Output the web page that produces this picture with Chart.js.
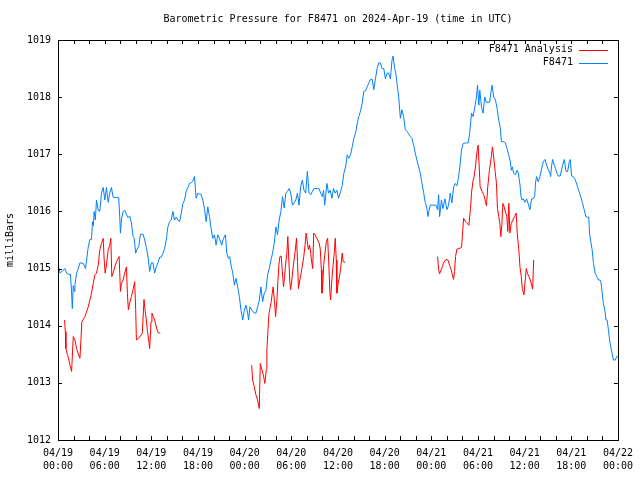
<!DOCTYPE html>
<html>
<head>
<meta charset="utf-8">
<script src="https://cdn.jsdelivr.net/npm/chart.js@4/dist/chart.umd.min.js"></script>
<style>
  body { margin: 0; background: #fff; }
  canvas { display: block; }
</style>
</head>
<body>
<canvas id="chart" width="640" height="480"></canvas>
<script>
// Заголовок и подписи
const chartTitle = "Barometric Pressure for F8471 on 2024-Apr-19 (time in UTC)";
const yAxisTitle = "milliBars";
const seriesNames = ["F8471 Analysis", "F8471"];

// Ось X: часы от 04/19 00:00 UTC
const xTickHours = [0, 6, 12, 18, 24, 30, 36, 42, 48, 54, 60, 66, 72];
const xTickLabels = [
  ["04/19", "00:00"], ["04/19", "06:00"], ["04/19", "12:00"], ["04/19", "18:00"],
  ["04/20", "00:00"], ["04/20", "06:00"], ["04/20", "12:00"], ["04/20", "18:00"],
  ["04/21", "00:00"], ["04/21", "06:00"], ["04/21", "12:00"], ["04/21", "18:00"],
  ["04/22", "00:00"],
];
const yTicks = [1012, 1013, 1014, 1015, 1016, 1017, 1018, 1019];

// F8471 (синяя линия)
const stationHours = [
  0, 0.13, 0.26, 0.5, 0.9, 1.1, 1.32, 1.6, 1.75, 1.84, 1.96, 2.1, 2.18, 2.39, 2.6, 2.82,
  3.25, 3.54, 3.89, 4.1, 4.3, 4.44, 4.55, 4.65, 4.8, 4.95, 5.17, 5.38, 5.59, 5.81, 6.02,
  6.23, 6.45, 6.66, 6.87, 7.09, 7.5, 7.81, 7.94, 8.03, 8.15, 8.37, 8.58, 8.8, 9.0, 9.22,
  9.44, 9.65, 9.8, 9.99, 10.15, 10.4, 10.59, 10.93, 11.15, 11.36, 11.58, 11.79, 12.0,
  12.21, 12.43, 12.64, 12.85, 13.07, 13.28, 13.5, 13.71, 13.92, 14.13, 14.35, 14.55,
  14.77, 14.98, 15.2, 15.42, 15.63, 15.85, 16.06, 16.27, 16.48, 16.7, 16.91, 17.12,
  17.34, 17.55, 17.76, 17.98, 18.2, 18.4, 18.62, 18.83, 19.05, 19.26, 19.48, 19.69,
  19.9, 20.12, 20.33, 20.55, 20.76, 21.06, 21.27, 21.53, 21.7, 21.91, 22.08, 22.25,
  22.47, 22.68, 22.89, 23.1, 23.32, 23.53, 23.75, 23.96, 24.17, 24.39, 24.51, 24.68,
  24.94, 25.24, 25.45, 25.67, 25.88, 26.1, 26.31, 26.52, 26.74, 26.95, 27.16, 27.38,
  27.59, 27.8, 28.02, 28.23, 28.44, 28.66, 28.87, 29.08, 29.3, 29.5, 29.72, 29.93,
  30.15, 30.37, 30.58, 30.79, 30.99, 31.2, 31.42, 31.63, 31.85, 32.06, 32.28, 32.49,
  32.7, 32.92, 33.35, 33.56, 33.78, 33.99, 34.15, 34.29, 34.58, 34.79, 35.0, 35.22,
  35.43, 35.64, 35.86, 36.07, 36.34, 36.55, 36.76, 36.98, 37.19, 37.4, 37.61, 37.83,
  38.04, 38.26, 38.47, 38.68, 38.9, 39.11, 39.32, 39.54, 39.75, 39.97, 40.18, 40.4,
  40.61, 40.82, 41.03, 41.25, 41.46, 41.67, 41.89, 42.1, 42.31, 42.52, 42.74, 42.95,
  43.08, 43.29, 43.46, 43.59, 43.8, 44.02, 44.23, 44.44, 44.66, 44.87, 45.08, 45.3,
  45.51, 45.73, 45.94, 46.15, 46.37, 46.58, 46.79, 47.01, 47.22, 47.43, 47.56, 47.86,
  48.2, 48.59, 48.81, 48.94, 49.07, 49.3, 49.5, 49.75, 50.01, 50.2, 50.44, 50.65,
  50.87, 51.08, 51.29, 51.5, 51.67, 51.89, 52.1, 52.53, 52.75, 52.96, 53.17, 53.38,
  53.6, 53.81, 53.94, 54.11, 54.24, 54.45, 54.66, 54.87, 55.08, 55.51, 55.64, 55.82,
  56.03, 56.25, 56.46, 56.67, 56.89, 57.01, 57.31, 57.52, 57.74, 57.95, 58.16, 58.29,
  58.42, 58.59, 58.8, 59.02, 59.19, 59.4, 59.53, 59.66, 59.83, 60.04, 60.25, 60.47,
  60.68, 60.9, 61.1, 61.3, 61.4, 61.53, 61.75, 61.97, 62.19, 62.4, 62.62, 62.83, 63.04,
  63.25, 63.34, 63.47, 63.6, 63.81, 63.98, 64.15, 64.32, 64.58, 64.75, 64.89, 65.1,
  65.32, 65.53, 65.74, 65.87, 66.04, 66.25, 66.46, 66.63, 66.8, 67.02, 67.23, 67.45,
  67.66, 67.87, 68.09, 68.25, 68.34, 68.51, 68.68, 68.85, 69.06, 69.28, 69.49, 69.7,
  69.83, 70.0, 70.13, 70.34, 70.47, 70.6, 70.73, 70.9, 71.07, 71.24, 71.41, 71.67,
  71.84, 72.0,
];
const stationPressure = [
  1015.09, 1015.0, 1014.92, 1014.95, 1015.0, 1014.92, 1014.9, 1014.9, 1014.57, 1014.3,
  1014.7, 1014.6, 1014.72, 1014.92, 1015.0, 1015.1, 1015.09, 1015.0, 1015.38, 1015.51,
  1015.51, 1015.82, 1015.75, 1016.0, 1015.85, 1016.2, 1016.02, 1016.0, 1016.32, 1016.42,
  1016.2, 1016.42, 1016.16, 1016.32, 1016.42, 1016.25, 1016.24, 1016.24, 1015.9, 1015.62,
  1015.85, 1016.0, 1016.02, 1015.95, 1015.89, 1015.92, 1015.8, 1015.56, 1015.53, 1015.27,
  1015.33, 1015.4, 1015.6, 1015.6, 1015.5, 1015.37, 1015.2, 1014.95, 1015.1, 1015.1,
  1014.92, 1015.03, 1015.1, 1015.2, 1015.2, 1015.27, 1015.35, 1015.5, 1015.73, 1015.82,
  1015.85, 1016.0, 1015.85, 1015.9, 1015.85, 1015.82, 1015.97, 1016.14, 1016.2, 1016.35,
  1016.42, 1016.49, 1016.5, 1016.53, 1016.61, 1016.23, 1016.32, 1016.3, 1016.3, 1016.2,
  1016.05, 1015.82, 1016.08, 1015.91, 1015.7, 1015.53, 1015.59, 1015.41, 1015.59, 1015.53,
  1015.41, 1015.53, 1015.59, 1015.27, 1015.18, 1015.21, 1015.06, 1014.92, 1014.71, 1014.83,
  1014.68, 1014.51, 1014.27, 1014.1, 1014.27, 1014.36, 1014.22, 1014.1, 1014.33, 1014.27,
  1014.22, 1014.22, 1014.33, 1014.45, 1014.68, 1014.42, 1014.57, 1014.62, 1014.89, 1015.0,
  1015.15, 1015.27, 1015.44, 1015.73, 1015.59, 1015.85, 1016.0, 1016.26, 1016.06, 1016.32,
  1016.35, 1016.4, 1016.32, 1016.11, 1016.15, 1016.2, 1016.32, 1016.11, 1016.43, 1016.55,
  1016.37, 1016.32, 1016.7, 1016.32, 1016.29, 1016.35, 1016.4, 1016.4, 1016.4, 1016.32,
  1016.26, 1016.37, 1016.11, 1016.49, 1016.32, 1016.37, 1016.23, 1016.4, 1016.32, 1016.37,
  1016.23, 1016.35, 1016.46, 1016.67, 1016.78, 1016.99, 1016.93, 1016.99, 1017.13, 1017.28,
  1017.37, 1017.54, 1017.66, 1017.76, 1017.89, 1018.1, 1018.11, 1018.18, 1018.25, 1018.31,
  1018.31, 1018.13, 1018.32, 1018.5, 1018.6, 1018.6, 1018.5, 1018.5, 1018.32, 1018.42,
  1018.42, 1018.32, 1018.65, 1018.72, 1018.5, 1018.39, 1018.24, 1018.01, 1017.63, 1017.78,
  1017.66, 1017.43, 1017.4, 1017.36, 1017.31, 1017.28, 1017.16, 1017.02, 1016.9, 1016.78,
  1016.67, 1016.5, 1016.33, 1016.16, 1016.06, 1015.91, 1016.11, 1016.11, 1016.11, 1016.03,
  1016.29, 1015.91, 1016.2, 1016.05, 1016.22, 1016.03, 1016.1, 1016.32, 1016.15, 1016.43,
  1016.49, 1016.45, 1016.6, 1016.78, 1017.08, 1017.19, 1017.2, 1017.2, 1017.4, 1017.72,
  1017.66, 1017.83, 1018.0, 1018.21, 1017.86, 1018.12, 1017.83, 1017.72, 1018.0, 1017.91,
  1017.91, 1018.07, 1018.21, 1018.0, 1017.95, 1017.8, 1017.6, 1017.45, 1017.22, 1017.22,
  1017.2, 1017.1, 1016.99, 1016.87, 1016.72, 1016.78, 1016.67, 1016.64, 1016.72, 1016.67,
  1016.47, 1016.26, 1016.2, 1016.22, 1016.16, 1016.22, 1016.13, 1016.03, 1016.22, 1016.22,
  1016.27, 1016.5, 1016.61, 1016.52, 1016.61, 1016.75, 1016.87, 1016.91, 1016.81, 1016.73,
  1016.67, 1016.61, 1016.8, 1016.91, 1016.81, 1016.75, 1016.67, 1016.62, 1016.62, 1016.73,
  1016.81, 1016.91, 1016.7, 1016.7, 1016.87, 1016.91, 1016.62, 1016.61, 1016.57, 1016.51,
  1016.43, 1016.34, 1016.25, 1016.14, 1016.03, 1015.91, 1015.9, 1015.9, 1015.62, 1015.47,
  1015.33, 1015.09, 1014.92, 1014.86, 1014.8, 1014.8, 1014.75, 1014.54, 1014.39, 1014.25,
  1014.1, 1014.1, 1013.98, 1013.78, 1013.63, 1013.52, 1013.4, 1013.4, 1013.46, 1013.46,
];

// F8471 Analysis (красная линия), null = разрыв
const analysisHours = [
  0.85, 0.94, 1.02, 1.2, 1.32, 1.54, 1.75, 1.96, 2.18, 2.39, 2.6, 2.82, 2.95, 3.07, 3.46,
  3.89, 4.31, 4.53, 4.74, 4.95, 5.17, 5.38, 5.59, 5.81, 5.94, 6.06, 6.23, 6.45, 6.66,
  6.79, 6.92, 7.09, 7.3, 7.52, 7.73, 7.86, 8.03, 8.15, 8.37, 8.58, 8.8, 8.92, 9.05, 9.22,
  9.44, 9.65, 9.86, 9.99, 10.08, 10.5, 10.84, 11.06, 11.19, 11.36, 11.49, 11.66, 11.79,
  11.96, 12.08, 12.25, 12.43, 12.64, 12.85, 13.15,
  18,
  24.9, 25.03, 25.24, 25.45, 25.66, 25.88, 26.01, 26.22, 26.4, 26.6, 26.78, 26.86, 26.99,
  27.12, 27.29, 27.42, 27.55, 27.67, 27.85, 27.98, 28.15, 28.27, 28.4, 28.53, 28.7,
  28.83, 29.0, 29.13, 29.26, 29.43, 29.55, 29.68, 29.81, 29.9, 30.07, 30.24, 30.41,
  30.54, 30.67, 30.8, 30.92, 31.09, 31.26, 31.43, 31.6, 31.77, 31.9, 32.03, 32.2, 32.33,
  32.46, 32.58, 32.75, 32.88, 33.05, 33.2, 33.39, 33.6, 33.73, 33.86, 33.94, 34.07,
  34.16, 34.33, 34.5, 34.67, 34.8, 34.97, 35.05, 35.18, 35.35, 35.52, 35.65, 35.78,
  35.86, 36.03, 36.2, 36.37, 36.54, 36.67, 36.93,
  42,
  48.81, 48.94, 49.07, 49.28, 49.58, 49.88, 50.14, 50.35, 50.56, 50.69, 50.86, 50.99,
  51.12, 51.29, 51.55, 51.89, 52.02, 52.15, 52.4, 52.6, 52.83, 53.04, 53.17, 53.34,
  53.51, 53.68, 53.85, 54.02, 54.15, 54.28, 54.54, 54.75, 54.97, 55.09, 55.26, 55.48,
  55.69, 55.86, 55.99, 56.21, 56.38, 56.51, 56.68, 56.81, 56.94, 57.07, 57.2, 57.37,
  57.54, 57.71, 57.84, 57.97, 58.1, 58.28, 58.49, 58.71, 58.92, 59.05, 59.27, 59.4,
  59.57, 59.7, 59.91, 60.04, 60.21, 60.38, 60.56, 60.73, 60.9, 61.03, 61.16,
];
const analysisPressure = [
  1014.1, 1013.9, 1013.6, 1013.5, 1013.45, 1013.31, 1013.2, 1013.81, 1013.75, 1013.6,
  1013.51, 1013.43, 1013.76, 1014.07, 1014.16, 1014.33, 1014.57, 1014.74, 1014.89,
  1014.92, 1015.06, 1015.33, 1015.44, 1015.53, 1015.15, 1014.92, 1015.06, 1015.33,
  1015.41, 1015.53, 1014.86, 1014.92, 1015.03, 1015.12, 1015.18, 1015.21, 1014.6,
  1014.74, 1014.8, 1014.92, 1015.03, 1014.57, 1014.28, 1014.4, 1014.51, 1014.63, 1014.77,
  1014.28, 1013.75, 1013.8, 1013.87, 1014.46, 1014.28, 1014.1, 1013.92, 1013.75, 1013.6,
  1014.07, 1014.22, 1014.16, 1014.1, 1013.98, 1013.88, 1013.87,
  null,
  1013.31, 1013.05, 1012.93, 1012.79, 1012.7, 1012.55, 1013.34, 1013.23, 1013.14,
  1012.99, 1013.23, 1013.58, 1013.9, 1014.2, 1014.33, 1014.42, 1014.57, 1014.68, 1014.4,
  1014.16, 1014.45, 1014.77, 1015.06, 1015.21, 1015.22, 1014.97, 1014.68, 1014.86,
  1015.06, 1015.27, 1015.56, 1015.15, 1014.77, 1014.63, 1014.8, 1015.03, 1015.21,
  1015.36, 1015.53, 1015.12, 1014.65, 1014.8, 1014.92, 1015.06, 1015.21, 1015.41,
  1015.62, 1015.5, 1015.33, 1015.41, 1015.33, 1015.15, 1015.0, 1015.62, 1015.59,
  1015.55, 1015.5, 1015.44, 1015.33, 1014.98, 1014.57, 1014.77, 1015.06, 1015.27,
  1015.47, 1015.53, 1015.15, 1014.57, 1014.45, 1014.74, 1015.03, 1015.27, 1015.53,
  1015.15, 1014.57, 1014.74, 1014.86, 1015.03, 1015.27, 1015.12, 1015.11,
  null,
  1015.21, 1014.98, 1014.91, 1014.98, 1015.1, 1015.16, 1015.15, 1015.06, 1014.98,
  1014.9, 1014.81, 1014.95, 1015.21, 1015.34, 1015.35, 1015.37, 1015.62, 1015.88,
  1015.82, 1015.79, 1015.76, 1016.05, 1016.32, 1016.52, 1016.61, 1016.78, 1017.02,
  1017.16, 1016.81, 1016.43, 1016.35, 1016.29, 1016.17, 1016.1, 1016.43, 1016.73,
  1016.93, 1017.13, 1016.99, 1016.7, 1016.49, 1016.05, 1015.91, 1015.79, 1015.56,
  1015.76, 1016.14, 1016.08, 1015.99, 1015.91, 1015.65, 1016.14, 1015.62, 1015.79,
  1015.85, 1015.91, 1015.97, 1015.62, 1015.3, 1015.03, 1014.86, 1014.65, 1014.54,
  1014.74, 1015.0, 1014.91, 1014.86, 1014.8, 1014.71, 1014.64, 1015.15,
];

const RED = "rgb(255, 0, 0)";
const BLUE = "rgb(0, 128, 255)";
const FONT = "DejaVu Sans Mono";
const minorStepHours = 2;

// Пары {x, y} для Chart.js
const toPoints = (hours, values) => hours.map((h, i) => ({ x: h, y: values[i] }));

// Рамка, засечки внутрь, заголовок и легенда в стиле gnuplot
const gnuplotFrame = {
  id: "gnuplotFrame",
  afterDraw(chart) {
    const { ctx, chartArea: a, scales } = chart;
    ctx.save();
    ctx.strokeStyle = "#000";
    ctx.lineWidth = 1;

    ctx.beginPath();
    for (let h = xTickHours[0]; h <= xTickHours[xTickHours.length - 1]; h += minorStepHours) {
      const x = Math.round(scales.x.getPixelForValue(h)) + 0.5;
      ctx.moveTo(x, a.bottom);
      ctx.lineTo(x, a.bottom - 4);
      ctx.moveTo(x, a.top);
      ctx.lineTo(x, a.top + 4);
    }
    yTicks.forEach((v) => {
      const y = Math.round(scales.y.getPixelForValue(v)) + 0.5;
      ctx.moveTo(a.left, y);
      ctx.lineTo(a.left + 4, y);
      ctx.moveTo(a.right, y);
      ctx.lineTo(a.right - 4, y);
    });
    ctx.stroke();
    ctx.strokeRect(Math.round(a.left) + 0.5, Math.round(a.top) + 0.5,
      Math.round(a.right - a.left), Math.round(a.bottom - a.top));

    // заголовок над областью графика
    ctx.fillStyle = "#000";
    ctx.font = `10px "${FONT}"`;
    ctx.textAlign = "center";
    ctx.textBaseline = "middle";
    ctx.fillText(chartTitle, (a.left + a.right) / 2, 19.5);

    // легенда справа сверху
    const colors = [RED, BLUE];
    seriesNames.forEach((name, i) => {
      const y = a.top + 9.5 + i * 13;
      ctx.textAlign = "right";
      ctx.fillText(name, a.right - 45, y);
      ctx.strokeStyle = colors[i];
      ctx.beginPath();
      ctx.moveTo(a.right - 39, Math.round(y) + 0.5);
      ctx.lineTo(a.right - 10, Math.round(y) + 0.5);
      ctx.stroke();
    });
    ctx.restore();
  },
};

Chart.defaults.font.family = FONT;
Chart.defaults.font.size = 10;
Chart.defaults.color = "#000";

new Chart(document.getElementById("chart"), {
  type: "line",
  data: {
    datasets: [
      {
        label: seriesNames[1],
        data: toPoints(stationHours, stationPressure),
        borderColor: BLUE,
        borderWidth: 1,
        pointRadius: 0,
        tension: 0,
      },
      {
        label: seriesNames[0],
        data: toPoints(analysisHours, analysisPressure),
        borderColor: RED,
        borderWidth: 1,
        pointRadius: 0,
        tension: 0,
        spanGaps: false,
      },
    ],
  },
  options: {
    responsive: false,
    animation: false,
    devicePixelRatio: 1,
    layout: { padding: { top: 40, right: 20, left: 0, bottom: 0 } },
    plugins: {
      legend: { display: false },
      title: { display: false },
      tooltip: { enabled: false },
    },
    scales: {
      x: {
        type: "linear",
        min: xTickHours[0],
        max: xTickHours[xTickHours.length - 1],
        grid: { display: false, drawTicks: false },
        border: { display: false },
        ticks: {
          stepSize: 6,
          autoSkip: false,
          maxRotation: 0,
          padding: 7,
          font: { size: 10, lineHeight: 1.3 },
          callback: (v) => {
            const i = xTickHours.indexOf(v);
            return i >= 0 ? xTickLabels[i] : "";
          },
        },
        afterFit: (scale) => { scale.height = 40; },
      },
      y: {
        min: yTicks[0],
        max: yTicks[yTicks.length - 1],
        grid: { display: false, drawTicks: false },
        border: { display: false },
        ticks: {
          stepSize: 1,
          padding: 7,
          callback: (v) => String(v),
        },
        title: {
          display: true,
          text: yAxisTitle,
          font: { size: 10, lineHeight: 1.2 },
          padding: { top: 4, bottom: 0 },
        },
        afterFit: (scale) => { scale.width = 58; },
      },
    },
  },
  plugins: [gnuplotFrame],
});
</script>
</body>
</html>
